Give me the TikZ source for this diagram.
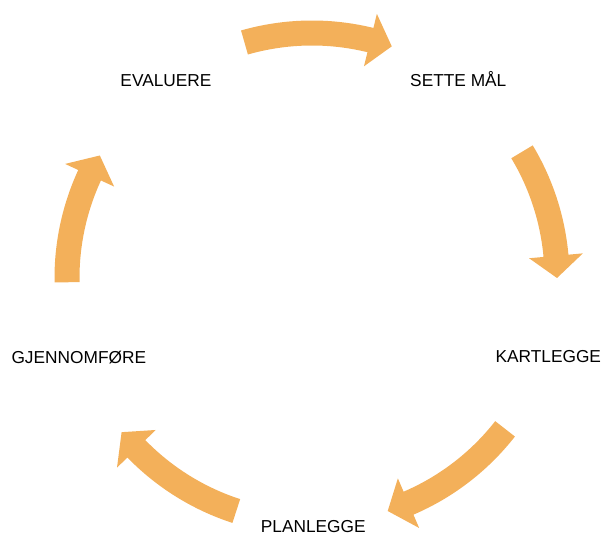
\documentclass[tikz,border=0pt]{standalone}
\usepackage{fontspec}
\setmainfont{Liberation Sans}
\definecolor{cycorange}{HTML}{F3B05A}
\newcommand\cycarrow[2]{%
  \fill[cycorange] (#1:257.5) arc[start angle=#1, end angle={#2+5.2}, radius=257.5]
    -- ({#2+5.2}:272) -- (#2:245) -- ({#2+5.2}:218) -- ({#2+5.2}:232.5)
    arc[start angle={#2+5.2}, end angle=#1, radius=232.5] -- cycle;}
\begin{document}
\begin{tikzpicture}[x=1pt,y=1pt,
  lbl/.style={font=\fontsize{17.3}{20}\selectfont, text=black, anchor=base, inner sep=0pt}]
\useasboundingbox (0,0) rectangle (603,536);
\begin{scope}[shift={(312,258)}]
  \cycarrow{106}{71}
  \cycarrow{31}{0}
  \cycarrow{-38}{-72}
  \cycarrow{-108}{-141}
  \cycarrow{181}{150}
\end{scope}
\node[lbl] (evaluere) at (166,{536-86.7}) {EVALUERE};
\node[lbl] (sette) at (458.3,{536-86.7}) {SETTE MÅL};
\node[lbl] (kartlegge) at (548.3,{536-362.7}) {KARTLEGGE};
\node[lbl] (gjennom) at (78.8,{536-364}) {GJENNOMFØRE};
\node[lbl] (planlegge) at (313.3,{536-532.5}) {PLANLEGGE};
\end{tikzpicture}
\end{document}
